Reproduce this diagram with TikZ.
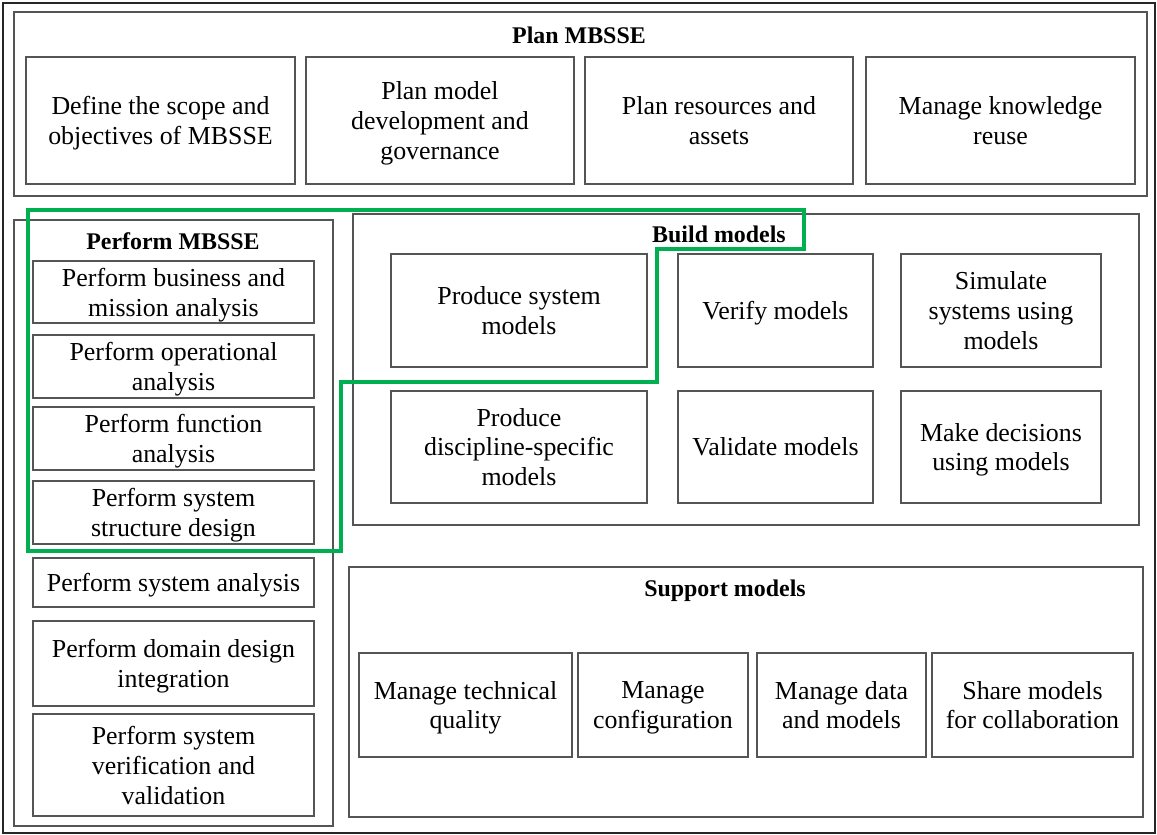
\documentclass[tikz,border=0pt]{standalone}
\usepackage{fontspec}
\setmainfont{Liberation Serif}
\definecolor{frame}{HTML}{555555}
\definecolor{hl}{HTML}{00B050}
\tikzset{
  box/.style={draw=frame, line width=1.3bp, rectangle, inner sep=0pt, align=center,
              font=\fontsize{26}{30}\selectfont, text=black, text depth=0pt},
  group/.style={draw=frame, line width=1.3bp, rectangle, inner sep=0pt},
  ttl/.style={font=\fontsize{24}{28}\selectfont\bfseries, inner sep=0pt, text=black},
}
\begin{document}
\begin{tikzpicture}[x=1bp, y=-1bp]
\useasboundingbox (0,0) rectangle (1157,835);
\node[draw=black!85, line width=1.5bp, rectangle, inner sep=0pt, minimum width=1152bp, minimum height=830bp] (outer) at (579,418) {};

% Plan MBSSE
\node[group, minimum width=1133bp, minimum height=184bp] (plan) at (580.5,104) {};
\node[ttl] (plantitle) at (579,35) {Plan MBSSE};
\node[box, minimum width=269bp, minimum height=127bp] (p1) at (160.5,120.5) {Define the scope and\\objectives of MBSSE};
\node[box, minimum width=268bp, minimum height=127bp] (p2) at (440,120.5) {Plan model\\development and\\governance};
\node[box, minimum width=268bp, minimum height=127bp] (p3) at (719,120.5) {Plan resources and\\assets};
\node[box, minimum width=269bp, minimum height=127bp] (p4) at (1000.5,120.5) {Manage knowledge\\reuse};

% Perform MBSSE
\node[group, minimum width=319bp, minimum height=606bp] (perform) at (173.5,523) {};
\node[ttl] (performtitle) at (173,241) {Perform MBSSE};
\node[box, minimum width=281bp, minimum height=62bp] (f1) at (173.5,292) {Perform business and\\mission analysis};
\node[box, minimum width=281bp, minimum height=63bp] (f2) at (173.5,366.5) {Perform operational\\analysis};
\node[box, minimum width=281bp, minimum height=63bp] (f3) at (173.5,438.5) {Perform function\\analysis};
\node[box, minimum width=281bp, minimum height=63bp] (f4) at (173.5,512.5) {Perform system\\structure design};
\node[box, minimum width=281bp, minimum height=49bp] (f5) at (173.5,582.5) {Perform system analysis};
\node[box, minimum width=281bp, minimum height=85bp] (f6) at (173.5,663.5) {Perform domain design\\integration};
\node[box, minimum width=281bp, minimum height=102bp] (f7) at (173.5,765) {Perform system\\verification and\\validation};

% Build models
\node[group, minimum width=786bp, minimum height=311bp] (build) at (746,369.5) {};
\node[ttl] (buildtitle) at (719,234) {Build models};
\node[box, minimum width=256bp, minimum height=113bp] (b1) at (519,310.5) {Produce system\\models};
\node[box, minimum width=195bp, minimum height=113bp] (b2) at (775.5,310.5) {Verify models};
\node[box, minimum width=200bp, minimum height=113bp] (b3) at (1001,310.5) {Simulate\\systems using\\models};
\node[box, minimum width=256bp, minimum height=112bp] (b4) at (519,447) {Produce\\discipline-specific\\models};
\node[box, minimum width=195bp, minimum height=112bp] (b5) at (775.5,447) {Validate models};
\node[box, minimum width=200bp, minimum height=112bp] (b6) at (1001,447) {Make decisions\\using models};

% Support models
\node[group, minimum width=794bp, minimum height=250bp] (support) at (746,692) {};
\node[ttl] (supporttitle) at (725,591) {Support models};
\node[box, minimum width=213bp, minimum height=104bp] (s1) at (465.5,705) {Manage technical\\quality};
\node[box, minimum width=170bp, minimum height=104bp] (s2) at (663,705) {Manage\\configuration};
\node[box, minimum width=169bp, minimum height=104bp] (s3) at (841.5,705) {Manage data\\and models};
\node[box, minimum width=201bp, minimum height=104bp] (s4) at (1032.5,705) {Share models\\for collaboration};

% Green highlight outline
\draw[hl, line width=4.5bp, line join=miter]
  (28,210) -- (804,210) -- (804,249) -- (657,249) -- (657,382) -- (341,382) -- (341,551) -- (28,551) -- cycle;
\end{tikzpicture}
\end{document}
